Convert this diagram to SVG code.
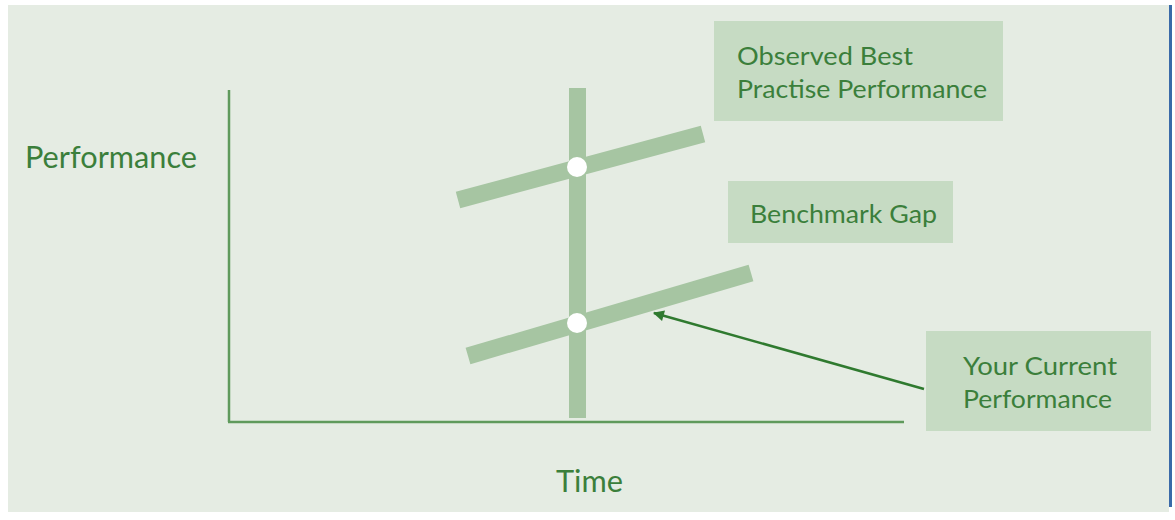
<svg xmlns="http://www.w3.org/2000/svg" width="1175" height="520" viewBox="0 0 1175 520">
<style>
.lbl{font-family:Lato,"Open Sans",sans-serif;fill:#3b7f3b;font-size:25px}
.big{font-size:30px}
.box{fill:#c6dbc3}
.bar{stroke:#a6c5a2;stroke-width:17;fill:none}
.axis{stroke:#5f9a5c;stroke-width:2.5;fill:none}
.dot{fill:#ffffff}
</style>
<defs>
<marker id="ah" viewBox="0 0 10 10" refX="9" refY="5" markerWidth="13" markerHeight="11" orient="auto" markerUnits="userSpaceOnUse">
<path d="M0,0 L10,5 L0,10 z" fill="#2f7a2f"/>
</marker>
</defs>
<rect x="0" y="0" width="1175" height="520" fill="#ffffff"/>
<rect x="8" y="5" width="1161" height="507" fill="#e5ece3"/>
<rect x="1169" y="5" width="3" height="502" fill="#3a6aa8"/>
<g id="axes">
<line class="axis" x1="229" y1="90" x2="229" y2="422"/>
<line class="axis" x1="228" y1="422" x2="904" y2="422"/>
</g>
<g id="bars">
<line class="bar" x1="577.5" y1="88" x2="577.5" y2="418"/>
<line class="bar" x1="458" y1="200" x2="703" y2="134"/>
<line class="bar" x1="468" y1="356" x2="751" y2="273"/>
<circle class="dot" cx="577" cy="167" r="10"/>
<circle class="dot" cx="577" cy="323" r="10"/>
</g>
<g id="connectors">
<line x1="924" y1="389" x2="654" y2="313" stroke="#2f7a2f" stroke-width="2.5" marker-end="url(#ah)"/>
</g>
<g id="y-label"><text class="lbl big" x="25" y="168" textLength="172" lengthAdjust="spacingAndGlyphs">Performance</text></g>
<g id="x-label"><text class="lbl big" x="556" y="492" textLength="67" lengthAdjust="spacingAndGlyphs">Time</text></g>
<g id="best">
<rect class="box" x="714" y="21" width="289" height="100"/>
<text class="lbl" x="737" y="65" textLength="176" lengthAdjust="spacingAndGlyphs">Observed Best</text>
<text class="lbl" x="737" y="98" textLength="250" lengthAdjust="spacingAndGlyphs">Practise Performance</text>
</g>
<g id="gap">
<rect class="box" x="728" y="181" width="225" height="62"/>
<text class="lbl" x="750" y="223" textLength="187" lengthAdjust="spacingAndGlyphs">Benchmark Gap</text>
</g>
<g id="current">
<rect class="box" x="926" y="331" width="225" height="100"/>
<text class="lbl" x="963" y="375" textLength="154" lengthAdjust="spacingAndGlyphs">Your Current</text>
<text class="lbl" x="963" y="408" textLength="149" lengthAdjust="spacingAndGlyphs">Performance</text>
</g>
</svg>
